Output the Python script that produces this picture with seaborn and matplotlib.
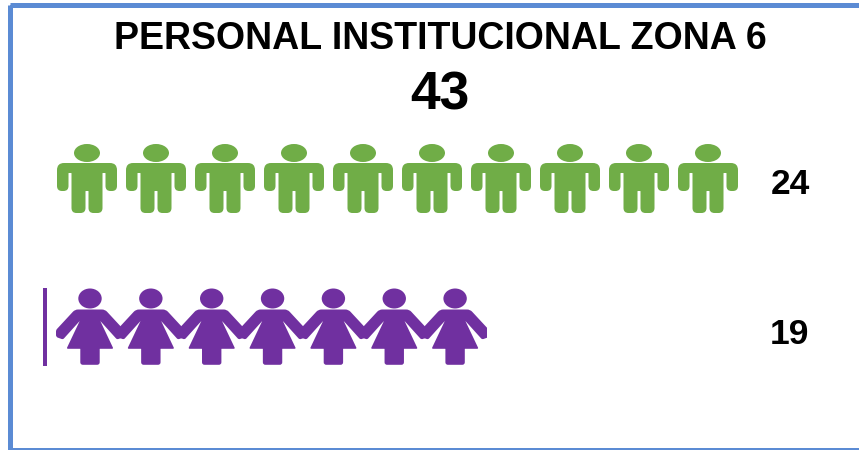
import numpy as np
import pandas as pd
import matplotlib
matplotlib.use("Agg")
import matplotlib.pyplot as plt
import seaborn as sns
from matplotlib.patches import Rectangle
from matplotlib.path import Path
from matplotlib.transforms import Affine2D

# Datos
titulo = "PERSONAL INSTITUCIONAL ZONA 6"
total = 43
categorias = ["Hombres", "Mujeres"]
valores = [24, 19]
iconos = [10, 7]

# Estilo
sns.set_theme(style="white")
plt.rcParams["font.family"] = ["Liberation Sans", "DejaVu Sans"]

W, H, DPI = 859, 450, 100
VERDE = "#70ad47"
MORADO = "#7030a0"
AZUL = "#5b8bd4"


def poligono_redondo(puntos, r):
    # Poligono con esquinas redondeadas, radio r o lista de radios
    puntos = np.array(puntos, dtype=float)
    n = len(puntos)
    radios = np.full(n, r) if np.isscalar(r) else np.array(r, dtype=float)
    verts, codes = [], []
    for i in range(n):
        p, a, b = puntos[i], puntos[i - 1], puntos[(i + 1) % n]
        ra = min(radios[i], np.linalg.norm(a - p) / 2)
        rb = min(radios[i], np.linalg.norm(b - p) / 2)
        ini = p + (a - p) / np.linalg.norm(a - p) * ra
        fin = p + (b - p) / np.linalg.norm(b - p) * rb
        verts.append(ini)
        codes.append(Path.MOVETO if i == 0 else Path.LINETO)
        verts += [p, fin]
        codes += [Path.CURVE3, Path.CURVE3]
    verts.append(verts[0])
    codes.append(Path.CLOSEPOLY)
    return Path(verts, codes)


def cabeza(cy, rx, ry):
    return Path.unit_circle().transformed(Affine2D().scale(rx, ry).translate(0, cy))


def icono_hombre():
    mitad = [(1.5, -12.5), (1.5, -34.5), (15.5, -34.5), (15.5, 5.5), (18.5, 5.5),
             (18.5, -12.5), (30, -12.5), (30, 15.5)]
    izq = [(-x, y) for x, y in reversed(mitad)]
    radios = [0.4, 5, 5, 0.4, 0.4, 5, 5, 7]
    cuerpo = poligono_redondo(mitad + izq, radios + radios[::-1])
    return Path.make_compound_path(cabeza(25.5, 13, 9), cuerpo)


def icono_mujer():
    # medidas en pixeles respecto al centro del icono
    mitad = [(9.7, -37.8), (9.7, -21.8), (23.5, -21.8), (10.3, 6),
             (27, -12.5), (34, -10), (34, -3), (15, 17.5)]
    izq = [(-x, y) for x, y in reversed(mitad)]
    radios = [2.5, 0.3, 1.5, 0.3, 1.5, 2, 1.5, 3]
    cuerpo = poligono_redondo(mitad + izq, radios + radios[::-1])
    return Path.make_compound_path(cabeza(28.5, 11.7, 10), cuerpo)


def tamano(path):
    # area del marcador para que el path quede en su escala de pixeles
    lado = 2 * np.abs(path.vertices).max()
    return (lado * 72 / DPI) ** 2


def eje_pixeles(x0, x1, y0, y1):
    return fig.add_axes([x0 / W, 1 - y1 / H, (x1 - x0) / W, (y1 - y0) / H])


fig = plt.figure(figsize=(W / DPI, H / DPI), dpi=DPI, facecolor="white")

# Marco azul y textos
fondo = fig.add_axes([0, 0, 1, 1])
fondo.set_xlim(0, W)
fondo.set_ylim(H, 0)
fondo.axis("off")
fondo.add_patch(Rectangle((9.5, 4.5), 900, 445, fill=False, edgecolor=AZUL,
                          linewidth=5 * 72 / DPI, joinstyle="round"))
fondo.text(440, 39, titulo, ha="center", va="center", fontsize=27,
           fontweight="bold", color="black")
fondo.text(440, 95, str(total), ha="center", va="center", fontsize=38.5,
           fontweight="bold", color="black")

# Filas de iconos
filas = pd.DataFrame({"categoria": categorias, "valor": valores, "iconos": iconos})
marcadores = [icono_hombre(), icono_mujer()]
colores = [VERDE, MORADO]
cajas = [(52.5, 742.5, 143, 214), (45, 487, 288, 366)]
centros = [(87, 69), (90, 60.85)]
textos_y = [184, 335]

for i, fila in filas.iterrows():
    x0, x1, y0, y1 = cajas[i]
    c0, paso = centros[i]
    ax = eje_pixeles(x0, x1, y0, y1)
    ax.patch.set_alpha(0)
    pos = np.arange(fila["iconos"])
    sns.scatterplot(x=pos, y=np.zeros(len(pos)), ax=ax, marker=marcadores[i],
                    s=tamano(marcadores[i]), color=colores[i], linewidth=0,
                    edgecolor="none", legend=False)
    ax.set_xlim((x0 - c0) / paso, (x1 - c0) / paso)
    ax.set_ylim(-1, 1)
    ax.set_xticks([])
    ax.set_yticks([])
    ax.set_xlabel("")
    ax.set_ylabel("")
    sns.despine(ax=ax, left=True, bottom=True)
    if fila["categoria"] == "Mujeres":
        ax.spines["left"].set_visible(True)
        ax.spines["left"].set_color(MORADO)
        ax.spines["left"].set_linewidth(4 * 72 / DPI)
        ax.spines["left"].set_capstyle("butt")
    fondo.text(790, textos_y[i], str(fila["valor"]), ha="center", va="center",
               fontsize=25.5, fontweight="bold", color="black")

fig.savefig("out.png", dpi=DPI)
